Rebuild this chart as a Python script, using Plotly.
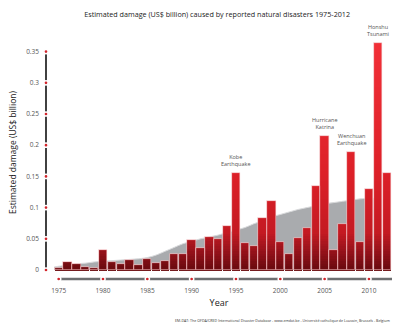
import numpy as np
import plotly.graph_objects as go

# Annual estimated damage, US$ billion
years = list(range(1975, 2013))
damage = [0.003, 0.013, 0.009, 0.005, 0.003, 0.032, 0.013, 0.010, 0.0155, 0.008,
          0.017, 0.012, 0.014, 0.026, 0.026, 0.048, 0.036, 0.053, 0.050, 0.070,
          0.155, 0.043, 0.039, 0.083, 0.111, 0.045, 0.026, 0.051, 0.068, 0.135,
          0.215, 0.032, 0.073, 0.189, 0.045, 0.130, 0.363, 0.156]

# Smoothed trend shown as the grey area behind the bars
trend_years = [1974.5] + list(range(1975, 2011)) + [2010.5]
trend = [0.005, 0.006, 0.008, 0.010, 0.011, 0.013, 0.014, 0.015, 0.016, 0.017,
         0.018, 0.020, 0.024, 0.030, 0.036, 0.042, 0.046, 0.050, 0.053, 0.056,
         0.060, 0.064, 0.068, 0.074, 0.079, 0.085, 0.089, 0.093, 0.097, 0.100,
         0.103, 0.106, 0.108, 0.110, 0.112, 0.114, 0.115, 0.115]

# Notable events labelled above their bars
event_years = [1995, 2005, 2008, 2011]
event_labels = ["Kobe<br>Earthquake", "Hurricane<br>Katrina",
                "Wenchuan<br>Earthquake", "Honshu<br>Tsunami"]

x_ticks = [1975, 1980, 1985, 1990, 1995, 2000, 2005, 2010]
y_ticks = [0, 0.05, 0.1, 0.15, 0.2, 0.25, 0.3, 0.35]

FONT = "Open Sans"
RED_DOT = "#d2232a"
X_MIN, X_MAX = 1973.57, 2012.6
Y_MIN, Y_MAX = -0.024, 0.4006
X_AXIS_Y = -0.0144

fig = go.Figure()

# grey trend area on the base axes, so the bars (on the overlay axes) cover it
fig.add_trace(go.Scatter(
    x=trend_years, y=trend, mode="lines", fill="tozeroy",
    line=dict(color="#d9dadc", width=1, shape="spline"),
    fillcolor="#a9abae", hoverinfo="skip", showlegend=False,
    xaxis="x", yaxis="y"))

# bars with a vertical dark-to-bright red gradient built from stacked bands
dmg = np.array(damage)
stops = [(0.0, (104, 10, 14)), (0.03, (150, 18, 26)), (0.06, (196, 26, 34)),
         (0.15, (220, 32, 40)), (0.37, (242, 48, 56))]


def band_color(v):
    for (v0, c0), (v1, c1) in zip(stops[:-1], stops[1:]):
        if v <= v1:
            t = (v - v0) / (v1 - v0)
            c = [round(a + (b - a) * t) for a, b in zip(c0, c1)]
            return "rgb(%d,%d,%d)" % tuple(c)
    return "rgb(%d,%d,%d)" % stops[-1][1]


levels = np.round(np.arange(0.37, 0.0, -0.004), 4)
for lev in levels:
    fig.add_trace(go.Bar(
        x=years, y=np.minimum(dmg, lev), width=0.94,
        marker=dict(color=band_color(lev - 0.002), line=dict(width=0)),
        hoverinfo="skip", showlegend=False, xaxis="x2", yaxis="y2"))

# light outline around every bar
fig.add_trace(go.Bar(
    x=years, y=damage, width=0.94,
    marker=dict(color="rgba(0,0,0,0)", line=dict(color="#efb3b6", width=0.7)),
    showlegend=False, xaxis="x2", yaxis="y2"))

# axis tick dots
fig.add_trace(go.Scatter(
    x=[X_MIN] * len(y_ticks), y=y_ticks, mode="markers", cliponaxis=False,
    marker=dict(color=RED_DOT, size=4.2, line=dict(color="white", width=1.5)),
    hoverinfo="skip", showlegend=False, xaxis="x2", yaxis="y2"))
fig.add_trace(go.Scatter(
    x=x_ticks, y=[X_AXIS_Y] * len(x_ticks), mode="markers", cliponaxis=False,
    marker=dict(color=RED_DOT, size=4.2, line=dict(color="white", width=1.5)),
    hoverinfo="skip", showlegend=False, xaxis="x2", yaxis="y2"))

# axis lines
shapes = [
    dict(type="line", xref="paper", yref="y", x0=0, x1=0, y0=0, y1=0.35,
         line=dict(color="#111111", width=1.6), layer="below"),
    dict(type="line", xref="x", yref="y", x0=x_ticks[0], x1=X_MAX,
         y0=X_AXIS_Y, y1=X_AXIS_Y, line=dict(color="#6d6e70", width=2.5),
         layer="below"),
]

annotations = []
for yr, lab in zip(event_years, event_labels):
    annotations.append(dict(
        x=yr, y=damage[years.index(yr)], text=lab, showarrow=False,
        xanchor="center", yanchor="bottom", yshift=3,
        font=dict(family=FONT, size=5.5, color="#555555")))

annotations.append(dict(
    x=1.0, xref="paper", y=-0.135, yref="paper", xanchor="right",
    yanchor="middle", showarrow=False,
    text="EM-DAT: The OFDA/CRED International Disaster Database - www.emdat.be - "
         "Université catholique de Louvain, Brussels - Belgium",
    font=dict(family=FONT, size=3.6, color="#333333")))

hidden = dict(showgrid=False, zeroline=False, showline=False,
              showticklabels=False, ticks="")

fig.update_layout(
    width=400, height=331,
    margin=dict(l=46, r=8, t=20, b=46),
    paper_bgcolor="white", plot_bgcolor="white",
    barmode="overlay", bargap=0,
    title=dict(
        text="Estimated damage (US$ billion) caused by reported natural disasters 1975-2012",
        x=0.543, xanchor="center", y=0.957, yanchor="middle",
        font=dict(family=FONT, size=7.2, color="#222222")),
    xaxis=dict(
        range=[X_MIN, X_MAX], tickvals=x_ticks, showgrid=False, zeroline=False,
        showline=False, ticks="", ticklabelstandoff=0,
        tickfont=dict(family=FONT, size=6.5, color="#555555"),
        title=dict(text="Year", standoff=6,
                   font=dict(family=FONT, size=9, color="#222222"))),
    yaxis=dict(
        range=[Y_MIN, Y_MAX], tickvals=y_ticks, showgrid=False, zeroline=False,
        showline=False, ticks="", ticklabelstandoff=6,
        tickfont=dict(family=FONT, size=6.5, color="#555555"),
        title=dict(text="Estimated damage (US$ billion)", standoff=8,
                   font=dict(family=FONT, size=8.5, color="#222222"))),
    xaxis2=dict(range=[X_MIN, X_MAX], overlaying="x", anchor="y2", **hidden),
    yaxis2=dict(range=[Y_MIN, Y_MAX], overlaying="y", anchor="x2", **hidden),
    shapes=shapes, annotations=annotations,
)

fig.write_html("out.html")
